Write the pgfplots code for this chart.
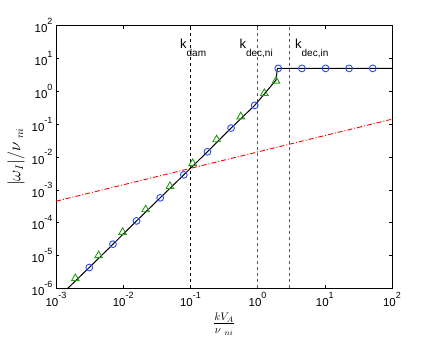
\documentclass[border=0pt]{standalone}
\usepackage{fontspec}
\setmainfont{Liberation Sans}
\usepackage{pgfplots}
\pgfplotsset{compat=1.18}

\definecolor{mblue}{rgb}{0.15,0.3,1}
\definecolor{mgreen}{rgb}{0.15,0.62,0.08}
\newcommand\tl[1]{10\raisebox{0.72em}{\fontsize{9}{9}\selectfont #1}}
\newcommand\klab[1]{k\raisebox{-7.8pt}{\fontsize{10}{10}\selectfont #1}}

\begin{document}
\begin{tikzpicture}
\begin{axis}[
    scale only axis,
    width=336pt, height=262.6pt,
    xmode=log, ymode=log,
    log basis x=10, log basis y=10,
    xmin=1e-3, xmax=1e2,
    ymin=1e-6, ymax=1e2,
    xtickten={-3,...,2},
    ytickten={-6,...,2},
    xticklabel={\pgfmathtruncatemacro\e{round(\tick)}\tl{\e}},
    yticklabel={\pgfmathtruncatemacro\e{round(\tick)}\tl{\e}},
    tick label style={font=\fontsize{11.5}{13}\selectfont},
    tick align=inside,
    major tick length=3pt,
    minor tick length=1.6pt,
    tick style={black, line width=0.5pt},
    axis line style={black, line width=0.8pt},
    xlabel={$\frac{kV_A}{\nu_{\ ni}}$},
    ylabel={$|\omega_I|/\nu_{\ ni}$},
    label style={font=\fontsize{16}{18}\selectfont},
    clip=true,
]
% vertical markers
\addplot[black, line width=0.6pt, dash pattern=on 3.5pt off 2.5pt] coordinates {(0.1,1e-6) (0.1,1e2)};
\addplot[black!65, line width=0.6pt, dash pattern=on 3.5pt off 2.5pt] coordinates {(1,1e-6) (1,1e2)};
\addplot[black!65, line width=0.6pt, dash pattern=on 3.5pt off 2.5pt] coordinates {(3,1e-6) (3,1e2)};

% red dash-dot
\addplot[red, line width=0.9pt, dash pattern=on 5pt off 2pt on 1pt off 2pt] coordinates {(1e-3,4.5e-4) (1e2,0.142)};

% black curve
\addplot[black, line width=1pt] coordinates {
    (1.5e-3,1.0e-6) (3.13e-3,4.3e-6) (7.04e-3,2.2e-5) (0.0158,1.13e-4)
    (0.0355,5.7e-4) (0.0798,2.86e-3) (0.179,0.0144) (0.403,0.076)
    (0.905,0.374) (1.88,2.2) (1.97,5.0) (100,5.0)
};

% blue circles
\addplot[only marks, mark=o, mark size=3.4pt, mblue, line width=0.9pt] coordinates {
    (3.13e-3,4.3e-6) (7.04e-3,2.2e-5) (0.0158,1.13e-4) (0.0355,5.7e-4)
    (0.0798,2.86e-3) (0.179,0.0144) (0.403,0.076) (0.905,0.374)
    (2.03,5.0) (4.57,5.0) (10.26,5.0) (23.0,5.0) (51.8,5.0)
};

% green triangles
\addplot[only marks, mark=triangle, mark size=4.4pt, mgreen, line width=0.9pt] coordinates {
    (1.94e-3,2.0e-6) (4.31e-3,1.0e-5) (9.8e-3,5.1e-5) (0.0216,2.5e-4)
    (0.0497,1.28e-3) (0.108,6.4e-3) (0.246,0.034) (0.561,0.17)
    (1.26,0.87) (1.88,2.07)
};

\node[anchor=base west, inner sep=0pt, font=\fontsize{13}{15}\selectfont] at (axis cs:0.070,20.4) {\klab{dam}};
\node[anchor=base west, inner sep=0pt, font=\fontsize{13}{15}\selectfont] at (axis cs:0.535,20.4) {\klab{dec,ni}};
\node[anchor=base west, inner sep=0pt, font=\fontsize{13}{15}\selectfont] at (axis cs:3.6,20.4) {\klab{dec,in}};
\end{axis}
\pgfresetboundingbox
\path (current axis.south west) ++(-56pt,-50.7pt) rectangle ++(436pt,339pt);
\end{tikzpicture}
\end{document}
